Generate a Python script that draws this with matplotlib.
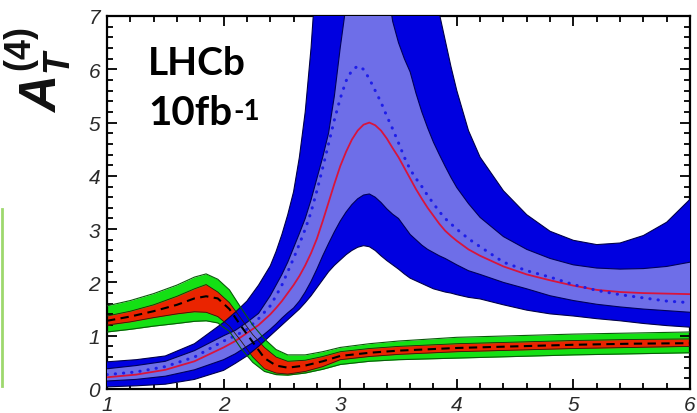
import numpy as np
import matplotlib
matplotlib.use('Agg')
import matplotlib.pyplot as plt
from matplotlib.lines import Line2D
from matplotlib.ticker import MultipleLocator

# SM prediction: central value, 1 sigma (red) and 2 sigma (green) bands
x_sm = [1.0, 1.2, 1.4, 1.6, 1.75, 1.85, 1.95, 2.05, 2.15, 2.25, 2.35, 2.45,
        2.55, 2.7, 2.85, 3.0, 3.25, 3.5, 4.0, 4.5, 5.0, 5.5, 6.0]
sm_central = [1.28, 1.36, 1.46, 1.58, 1.70, 1.74, 1.70, 1.50, 1.18, 0.88, 0.58, 0.44,
              0.40, 0.44, 0.52, 0.62, 0.68, 0.72, 0.77, 0.80, 0.83, 0.85, 0.86]
sm_1s_hi = [1.37, 1.46, 1.58, 1.74, 1.88, 1.96, 1.82, 1.62, 1.32, 1.02, 0.78, 0.60,
            0.52, 0.54, 0.61, 0.70, 0.76, 0.80, 0.85, 0.88, 0.91, 0.93, 0.94]
sm_1s_lo = [1.20, 1.26, 1.34, 1.41, 1.45, 1.44, 1.36, 1.18, 0.90, 0.60, 0.38, 0.30,
            0.28, 0.33, 0.42, 0.55, 0.61, 0.65, 0.70, 0.73, 0.76, 0.78, 0.80]
sm_2s_hi = [1.56, 1.66, 1.79, 1.95, 2.10, 2.16, 2.06, 1.86, 1.52, 1.20, 0.94, 0.74,
            0.64, 0.64, 0.70, 0.78, 0.85, 0.90, 0.97, 1.00, 1.03, 1.05, 1.07]
sm_2s_lo = [1.07, 1.12, 1.18, 1.23, 1.27, 1.28, 1.24, 1.08, 0.76, 0.50, 0.33, 0.27,
            0.26, 0.30, 0.37, 0.46, 0.52, 0.55, 0.58, 0.61, 0.64, 0.66, 0.68]

# new physics scenario: central (red), alternative (dotted), 1 sigma and 2 sigma bands
x_np = [1.0, 1.25, 1.5, 1.75, 2.0, 2.1, 2.2, 2.3,
        2.4, 2.45, 2.5, 2.55, 2.6, 2.65, 2.7, 2.75,
        2.8, 2.85, 2.9, 2.95, 3.0, 3.05, 3.1, 3.15,
        3.2, 3.25, 3.3, 3.35, 3.4, 3.45, 3.5, 3.55,
        3.6, 3.65, 3.7, 3.75, 3.8, 3.85, 3.9, 3.95,
        4.0, 4.1, 4.2, 4.4, 4.6, 4.8, 5.0, 5.2,
        5.4, 5.6, 5.8, 6.0]
np_central = [0.22, 0.27, 0.36, 0.52, 0.78, 0.90, 1.05, 1.20,
              1.40, 1.52, 1.65, 1.80, 1.95, 2.12, 2.32, 2.55,
              2.82, 3.15, 3.50, 3.85, 4.18, 4.45, 4.68, 4.85,
              4.96, 5.00, 4.95, 4.85, 4.70, 4.52, 4.35, 4.15,
              3.95, 3.75, 3.57, 3.40, 3.25, 3.10, 2.97, 2.87,
              2.78, 2.62, 2.50, 2.30, 2.15, 2.04, 1.94, 1.86,
              1.82, 1.80, 1.79, 1.78]
np_dotted = [0.27, 0.32, 0.42, 0.60, 0.90, 1.00, 1.12, 1.32,
             1.56, 1.75, 1.95, 2.20, 2.45, 2.72, 3.00, 3.32,
             3.72, 4.15, 4.60, 5.05, 5.45, 5.78, 5.98, 6.06,
             6.00, 5.82, 5.60, 5.38, 5.12, 4.88, 4.62, 4.35,
             4.12, 3.95, 3.80, 3.63, 3.48, 3.33, 3.20, 3.10,
             3.00, 2.82, 2.67, 2.38, 2.22, 2.10, 1.96, 1.85,
             1.77, 1.71, 1.65, 1.62]
np_1s_hi = [0.38, 0.44, 0.52, 0.72, 1.00, 1.10, 1.25, 1.42,
            1.75, 1.95, 2.15, 2.38, 2.65, 2.92, 3.20, 3.55,
            3.95, 4.35, 4.80, 5.50, 6.40, 7.20, 8.00, 8.50,
            8.50, 8.50, 8.50, 8.50, 7.60, 6.90, 6.50, 6.20,
            5.95, 5.55, 5.20, 4.90, 4.63, 4.40, 4.18, 3.97,
            3.78, 3.48, 3.22, 2.86, 2.62, 2.45, 2.33, 2.27,
            2.25, 2.26, 2.30, 2.38]
np_1s_lo = [0.15, 0.18, 0.24, 0.36, 0.55, 0.66, 0.80, 0.94,
            1.12, 1.22, 1.33, 1.43, 1.52, 1.65, 1.82, 2.02,
            2.25, 2.50, 2.73, 2.95, 3.15, 3.32, 3.46, 3.57,
            3.64, 3.66, 3.60, 3.50, 3.38, 3.28, 3.20, 3.05,
            2.90, 2.80, 2.70, 2.62, 2.56, 2.50, 2.45, 2.39,
            2.33, 2.22, 2.15, 2.00, 1.88, 1.75, 1.66, 1.59,
            1.54, 1.50, 1.47, 1.44]
np_2s_hi = [0.51, 0.55, 0.62, 0.85, 1.25, 1.44, 1.65, 1.95,
            2.31, 2.58, 2.90, 3.27, 3.70, 4.35, 5.20, 6.40,
            8.00, 9.00, 9.00, 9.00, 9.00, 9.00, 9.00, 9.00,
            9.00, 9.00, 9.00, 9.00, 9.00, 9.00, 9.00, 9.00,
            9.00, 9.00, 9.00, 9.00, 7.70, 7.05, 6.55, 6.05,
            5.60, 4.85, 4.35, 3.72, 3.27, 2.96, 2.79, 2.71,
            2.74, 2.88, 3.13, 3.56]
np_2s_lo = [0.04, 0.06, 0.09, 0.18, 0.35, 0.48, 0.62, 0.80,
            1.00, 1.10, 1.20, 1.30, 1.40, 1.50, 1.62, 1.75,
            1.90, 2.05, 2.20, 2.32, 2.42, 2.52, 2.60, 2.66,
            2.69, 2.67, 2.60, 2.50, 2.41, 2.33, 2.25, 2.16,
            2.08, 2.03, 1.98, 1.93, 1.88, 1.85, 1.82, 1.80,
            1.77, 1.72, 1.69, 1.58, 1.48, 1.41, 1.37, 1.32,
            1.28, 1.23, 1.19, 1.16]

fig = plt.figure(figsize=(6.97, 4.14), dpi=100)
ax = fig.add_axes([107/697, 1-390/414, 583/697, 373/414])

# SM bands (drawn first, the NP bands sit on top)
ax.fill_between(x_sm, sm_2s_lo, sm_2s_hi, color='#14e014', lw=0, zorder=1)
ax.fill_between(x_sm, sm_1s_lo, sm_1s_hi, color='#ea2400', lw=0, zorder=2)

# NP bands
ax.fill_between(x_np, np_2s_lo, np_2s_hi, color='#0000e0', lw=0, zorder=3)
ax.fill_between(x_np, np_1s_lo, np_1s_hi, color='#6e6ee8', lw=0, zorder=4)
for edge in (np_2s_lo, np_2s_hi):
    ax.plot(x_np, edge, color='#00004a', lw=0.8, zorder=5)
for edge in (np_1s_lo, np_1s_hi):
    ax.plot(x_np, edge, color='#00005a', lw=0.8, zorder=5)
ax.plot(x_np, np_central, color='#d8143c', lw=1.3, zorder=6)
ax.plot(x_np, np_dotted, color='#1e1ee8', lw=2.2, linestyle=(0, (0.1, 2.6)),
        dash_capstyle='round', zorder=6)

# SM band outlines and central value on top
for edge in (sm_2s_lo, sm_2s_hi):
    ax.plot(x_sm, edge, color='#0a5a0a', lw=0.8, zorder=7)
for edge in (sm_1s_lo, sm_1s_hi):
    ax.plot(x_sm, edge, color='#2a1a0a', lw=0.6, zorder=7)
ax.plot(x_sm, sm_central, color='black', lw=1.5, linestyle=(0, (4, 2.6)), zorder=8)

ax.set_xlim(1, 6)
ax.set_ylim(0, 7)
ax.xaxis.set_major_locator(MultipleLocator(1))
ax.xaxis.set_minor_locator(MultipleLocator(0.2))
ax.yaxis.set_major_locator(MultipleLocator(1))
ax.yaxis.set_minor_locator(MultipleLocator(0.2))
ax.tick_params(which='both', direction='in', top=True, right=True, width=1.3)
ax.tick_params(which='major', length=7, pad=5)
ax.tick_params(axis='x', which='major', pad=4)
ax.tick_params(which='minor', length=4)
for lab in ax.get_xticklabels() + ax.get_yticklabels():
    lab.set_fontfamily('Liberation Sans')
    lab.set_fontstyle('italic')
    lab.set_fontsize(15)
    lab.set_color('#2a2a2a')
for sp in ax.spines.values():
    sp.set_linewidth(1.6)

# axis title
plt.rcParams['mathtext.fontset'] = 'custom'
plt.rcParams['mathtext.it'] = 'Liberation Sans:bold:italic'
plt.rcParams['mathtext.rm'] = 'Liberation Sans:bold'
fig.text(0.054, 0.83, r'$A_T^{(4)}$', rotation=90, fontsize=37,
         ha='center', va='center', color='#111111')

# experiment label
fig.text(148/697, 1-75/414, 'LHCb', fontfamily='Lato', fontweight='bold',
         fontsize=28, va='baseline', ha='left')
t = fig.text(148/697, 1-125/414, '10fb', fontfamily='Lato', fontweight='bold',
             fontsize=29, va='baseline', ha='left')
ax.annotate('-1', xy=(1.0, 1.0), xycoords=t, xytext=(1, -3), textcoords='offset points',
            fontfamily='Lato', fontweight='bold', fontsize=20, ha='left', va='top')

# thin green rule at the left edge
fig.add_artist(Line2D([1.5/697, 1.5/697], [1-210/414, 1-387/414],
                      color='#9ed86e', lw=2))

fig.savefig('out.png', dpi=100)
